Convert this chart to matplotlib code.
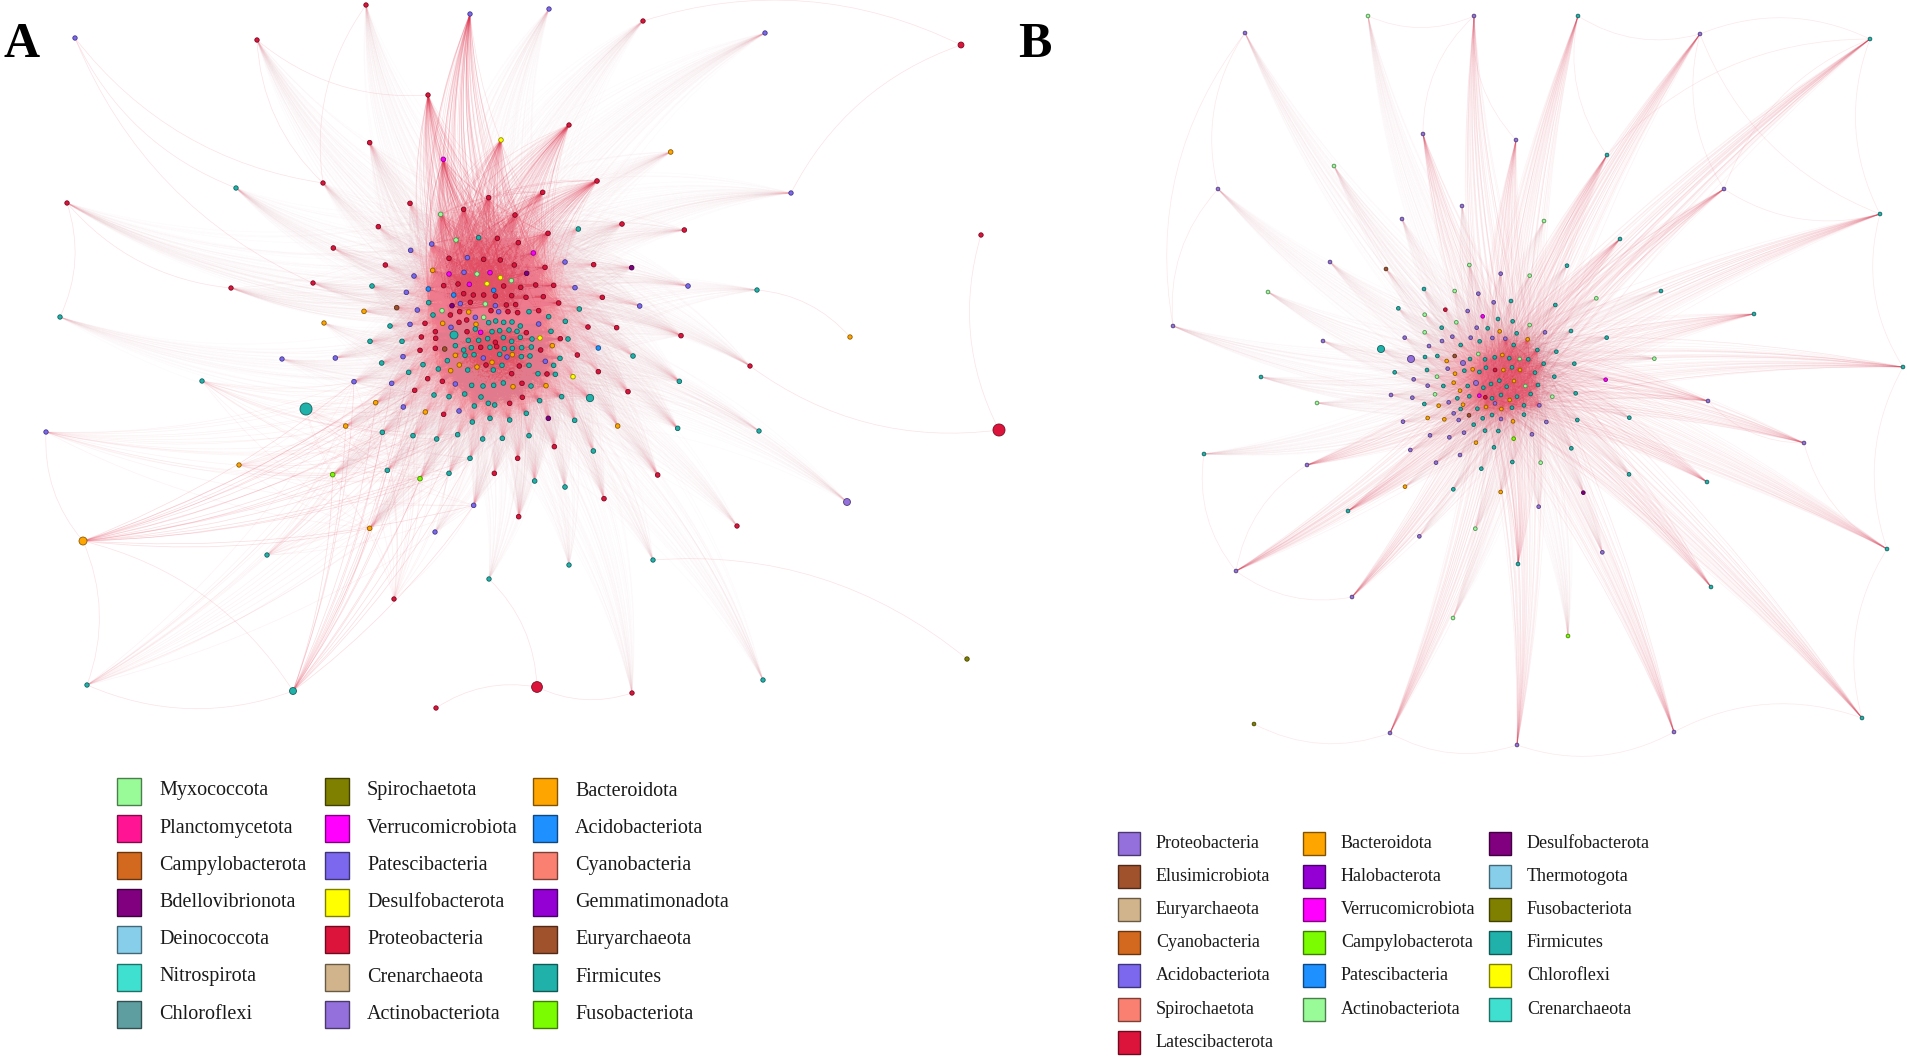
import numpy as np
import matplotlib
matplotlib.use("Agg")
import matplotlib.pyplot as plt
from matplotlib.path import Path
from matplotlib.collections import PathCollection
from matplotlib.patches import Rectangle
from matplotlib.colors import to_rgb

plt.rcParams['font.family'] = ['Liberation Serif', 'DejaVu Serif']

# ---------------------------------------------------------------- legends
legendA_names = [
    ["Myxococcota", "Planctomycetota", "Campylobacterota", "Bdellovibrionota",
     "Deinococcota", "Nitrospirota", "Chloroflexi"],
    ["Spirochaetota", "Verrucomicrobiota", "Patescibacteria", "Desulfobacterota",
     "Proteobacteria", "Crenarchaeota", "Actinobacteriota"],
    ["Bacteroidota", "Acidobacteriota", "Cyanobacteria", "Gemmatimonadota",
     "Euryarchaeota", "Firmicutes", "Fusobacteriota"],
]
legendA_colors = [
    ["#98FB98", "#FF1493", "#D2691E", "#800080", "#87CEEB", "#40E0D0", "#5F9EA0"],
    ["#808000", "#FF00FF", "#7B68EE", "#FFFF00", "#DC143C", "#D2B48C", "#9370DB"],
    ["#FFA500", "#1E90FF", "#FA8072", "#9400D3", "#A0522D", "#20B2AA", "#7CFC00"],
]
legendB_names = [
    ["Proteobacteria", "Elusimicrobiota", "Euryarchaeota", "Cyanobacteria",
     "Acidobacteriota", "Spirochaetota", "Latescibacterota"],
    ["Bacteroidota", "Halobacterota", "Verrucomicrobiota", "Campylobacterota",
     "Patescibacteria", "Actinobacteriota"],
    ["Desulfobacterota", "Thermotogota", "Fusobacteriota", "Firmicutes",
     "Chloroflexi", "Crenarchaeota"],
]
legendB_colors = [
    ["#9370DB", "#A0522D", "#D2B48C", "#D2691E", "#7B68EE", "#FA8072", "#DC143C"],
    ["#FFA500", "#9400D3", "#FF00FF", "#7CFC00", "#1E90FF", "#98FB98"],
    ["#800080", "#87CEEB", "#808000", "#20B2AA", "#FFFF00", "#40E0D0"],
]

codeA = {'r': 'Proteobacteria', 't': 'Firmicutes', 'b': 'Patescibacteria',
         'o': 'Bacteroidota', 'g': 'Myxococcota', 'm': 'Verrucomicrobiota',
         'y': 'Desulfobacterota', 'd': 'Bdellovibrionota', 'n': 'Euryarchaeota',
         'a': 'Acidobacteriota', 'f': 'Fusobacteriota', 's': 'Spirochaetota',
         'p': 'Actinobacteriota'}
codeB = {'p': 'Proteobacteria', 't': 'Firmicutes', 'g': 'Actinobacteriota',
         'l': 'Campylobacterota', 'o': 'Bacteroidota', 'm': 'Verrucomicrobiota',
         'r': 'Latescibacterota', 'e': 'Elusimicrobiota', 'u': 'Desulfobacterota',
         'f': 'Fusobacteriota'}

# ---------------------------------------------------------------- panel A network
# outer nodes (figure pixel layout): x, y, phylum code, size, link type
periA = [
    (366, 5, 'r', 10, 'u'), (470, 14, 'b', 10, 'U'), (549, 9, 'b', 10, 'u'),
    (643, 21, 'r', 10, 'u'), (75, 38, 'b', 10, 'n'), (257, 40, 'r', 10, 'u'),
    (765, 33, 'b', 10, 'u'), (961, 45, 'r', 18, 'n'), (428, 95, 'r', 10, 'U'),
    (569, 125, 'r', 10, 'U'), (323, 183, 'r', 10, 'u'), (236, 188, 't', 10, 'u'),
    (791, 193, 'b', 10, 'u'), (67, 203, 'r', 10, 'u'), (981, 235, 'r', 10, 'n'),
    (231, 288, 'r', 10, 'u'), (313, 283, 'r', 10, 'u'), (60, 317, 't', 10, 'l'),
    (757, 290, 't', 10, 'l'), (850, 337, 'o', 10, 'n'), (324, 323, 'o', 10, 'l'),
    (282, 359, 'b', 10, 'l'), (750, 366, 'r', 10, 'u'), (202, 381, 't', 10, 'w'),
    (306, 409, 't', 75, 'w'), (46, 432, 'b', 10, 'w'), (999, 430, 'r', 75, 'n'),
    (759, 431, 't', 10, 'l'), (239, 465, 'o', 10, 'w'), (847, 502, 'p', 25, 'l'),
    (737, 526, 'r', 10, 'l'), (435, 532, 'b', 10, 'l'), (83, 541, 'o', 33, 'W'),
    (267, 555, 't', 10, 'w'), (653, 560, 't', 10, 'l'), (569, 565, 't', 10, 'l'),
    (489, 579, 't', 10, 'l'), (394, 599, 'r', 10, 'w'), (967, 659, 's', 10, 'n'),
    (87, 685, 't', 10, 'w'), (293, 691, 't', 25, 'W'), (537, 687, 'r', 60, 'n'),
    (763, 680, 't', 10, 'l'), (632, 693, 'r', 10, 'l'), (436, 708, 'r', 10, 'n'),
    (454, 335, 't', 33, 'L'), (590, 398, 't', 28, 'L'),
]
extraA = [(4, 10), (4, 11), (4, 16), (14, 26), (7, 12), (7, 3), (41, 44), (41, 43),
          (41, 36), (38, 34), (39, 32), (39, 40), (40, 32), (0, 10), (5, 10), (5, 8),
          (13, 15), (25, 32), (17, 13), (19, 18), (22, 26)]

# core of panel A, read from an enlarged view (origin 330,130; factor 3)
hubsA = [(340, 88, 'm'), (513, 30, 'y'), (638, 187, 'r'), (801, 153, 'r')]
upperA = [
    (401, 238, 'r'), (476, 203, 'r'), (555, 255, 'r'), (332, 253, 'g'), (378, 330, 'g'),
    (446, 323, 't'), (502, 325, 'r'), (565, 338, 'r'), (654, 310, 'r'), (305, 342, 'b'),
    (357, 385, 'r'), (412, 383, 'b'), (461, 388, 'r'), (511, 390, 'r'), (553, 405, 'r'),
    (610, 369, 'm'), (645, 412, 'r'), (308, 421, 'o'), (357, 432, 'm'), (402, 427, 'b'),
    (441, 432, 'g'), (480, 428, 'm'), (511, 443, 'y'), (544, 452, 'g'), (590, 430, 'd'),
    (341, 467, 'r'), (384, 462, 'r'), (418, 463, 'm'), (471, 461, 'y'), (521, 468, 'r'),
    (572, 472, 'r'), (617, 465, 'r'), (671, 466, 'r'), (295, 477, 'a'), (371, 495, 'a'),
    (401, 491, 'r'), (430, 495, 'r'), (461, 495, 'r'), (491, 481, 'a'), (496, 498, 'r'),
    (545, 497, 'r'), (588, 502, 'r'), (640, 500, 'r'), (296, 518, 't'), (366, 527, 'd'),
    (391, 521, 'b'), (421, 517, 'r'), (466, 522, 'g'), (496, 527, 'b'), (529, 525, 'r'),
    (557, 524, 'r'), (626, 542, 'r'), (686, 519, 'r'), (361, 555, 'r'), (389, 545, 'r'),
    (416, 546, 'o'), (483, 542, 'r'), (534, 545, 'r'), (563, 548, 'r'),
]
lowerA = [
    (309, 555, 't'), (336, 542, 'g'), (436, 562, 'b'), (461, 562, 'g'), (506, 545, 'b'),
    (597, 545, 't'), (656, 560, 't'), (338, 580, 'o'), (363, 592, 'b'), (387, 577, 'r'),
    (410, 570, 'r'), (438, 583, 'o'), (476, 578, 't'), (497, 573, 't'), (521, 577, 't'),
    (546, 576, 't'), (571, 588, 't'), (626, 582, 'b'), (316, 605, 'r'), (411, 605, 'r'),
    (436, 597, 't'), (452, 607, 'm'), (486, 605, 't'), (509, 602, 't'), (537, 600, 't'),
    (561, 604, 't'), (589, 608, 'r'), (663, 604, 't'), (317, 625, 'r'), (415, 631, 't'),
    (446, 631, 't'), (473, 626, 't'), (496, 637, 'r'), (520, 623, 't'), (545, 634, 't'),
    (571, 622, 't'), (606, 627, 't'), (630, 624, 'y'), (691, 626, 'r'), (316, 655, 'r'),
    (344, 657, 'n'), (376, 647, 't'), (401, 660, 't'), (424, 653, 't'), (452, 652, 'r'),
    (480, 652, 't'), (500, 650, 'r'), (523, 656, 't'), (547, 655, 't'), (575, 653, 't'),
    (604, 651, 't'), (632, 660, 'r'), (667, 647, 'o'), (690, 685, 't'), (325, 717, 't'),
    (352, 692, 't'), (376, 676, 'o'), (405, 676, 't'), (432, 674, 't'), (460, 684, 'b'),
    (486, 697, 'o'), (509, 673, 't'), (531, 681, 'b'), (547, 674, 'o'), (574, 680, 't'),
    (600, 678, 't'), (646, 694, 'b'), (671, 706, 't'), (337, 754, 'r'), (362, 722, 'o'),
    (388, 705, 'o'), (413, 720, 't'), (441, 711, 'o'), (468, 705, 'r'), (490, 720, 't'),
    (516, 706, 't'), (545, 731, 'r'), (568, 708, 'r'), (597, 706, 't'), (624, 731, 't'),
    (651, 732, 'r'), (676, 733, 't'), (357, 800, 't'), (376, 762, 'b'), (404, 792, 't'),
    (425, 766, 't'), (453, 801, 't'), (459, 768, 't'), (491, 766, 't'), (520, 759, 't'),
    (549, 770, 'o'), (576, 760, 'r'), (603, 768, 't'), (648, 767, 'o'), (695, 800, 't'),
    (433, 828, 't'), (475, 820, 't'), (494, 825, 't'), (539, 820, 'r'), (577, 802, 'r'),
    (589, 850, 't'), (629, 812, 't'), (427, 876, 't'), (480, 865, 't'), (539, 870, 't'),
]
ringA = [
    (240, 220, 'r'), (145, 290, 'r'), (876, 282, 'r'), (1063, 300, 'r'), (745, 297, 't'),
    (242, 361, 'b'), (705, 396, 'b'), (791, 404, 'r'), (905, 413, 'd'), (166, 405, 'r'),
    (252, 438, 'b'), (735, 473, 'b'), (126, 468, 't'), (229, 487, 'b'), (817, 502, 'r'),
    (1074, 468, 'b'), (748, 537, 't'), (929, 528, 'b'), (200, 533, 'n'), (102, 544, 'o'),
    (262, 540, 'b'), (10, 354, 'r'), (119, 38, 'r'), (1022, 66, 'o'), (706, 574, 't'),
    (285, 580, 'r'), (180, 588, 't'), (240, 583, 'b'), (774, 591, 'r'), (860, 593, 'r'),
    (120, 634, 't'), (216, 634, 't'), (274, 621, 'r'), (714, 627, 't'), (1053, 617, 'r'),
    (16, 684, 'b'), (155, 699, 't'), (219, 680, 'b'), (270, 661, 'r'), (742, 675, 'r'),
    (805, 654, 'a'), (909, 678, 't'), (279, 704, 't'), (293, 746, 'r'), (729, 740, 'y'),
    (805, 725, 'r'), (1048, 754, 't'), (312, 795, 't'), (894, 785, 'r'), (341, 853, 'r'),
    (387, 843, 'b'), (655, 865, 'd'), (734, 871, 't'), (863, 888, 'o'), (1043, 895, 't'),
    (458, 927, 't'), (517, 925, 't'), (597, 917, 't'), (673, 950, 'r'), (790, 963, 't'),
    (563, 985, 'r'), (493, 1030, 'r'), (614, 1053, 't'), (705, 1071, 't'), (983, 1035, 'r'),
    (822, 1106, 'r'), (566, 1160, 'r'),
]
westA = [
    (137, 818, 'o'), (47, 888, 'o'), (220, 831, 'b'), (286, 846, 'o'), (157, 907, 't'),
    (249, 917, 't'), (8, 1034, 'f'), (270, 1046, 'f'), (172, 1021, 't'), (357, 1030, 't'),
    (119, 1195, 'o'), (431, 1126, 'b'), (320, 927, 't'), (383, 914, 't'), (420, 985, 't'),
    (72, 755, 'b'), (185, 760, 'b'), (254, 781, 'r'), (236, 727, 't'),
]

# ---------------------------------------------------------------- panel B network
periB = [
    (1245, 33, 'p', 7, 'f'), (1368, 16, 'g', 7, 'f'), (1474, 16, 'p', 7, 'F'),
    (1578, 16, 't', 7, 'F'), (1700, 34, 'p', 7, 'F'), (1870, 39, 't', 7, 'F'),
    (1218, 189, 'p', 7, 'f'), (1173, 326, 'p', 7, 'f'), (1334, 166, 'g', 7, 'f'),
    (1423, 134, 'p', 7, 'F'), (1516, 140, 'p', 7, 'F'), (1607, 155, 't', 7, 'F'),
    (1724, 189, 'p', 7, 'F'), (1880, 214, 't', 7, 'F'), (1462, 206, 'p', 7, 'f'),
    (1402, 219, 'p', 7, 'f'), (1544, 221, 'g', 7, 'f'), (1620, 239, 't', 7, 'F'),
    (1330, 262, 'p', 7, 'f'), (1268, 292, 'g', 7, 'f'), (1754, 314, 't', 7, 'F'),
    (1903, 367, 't', 7, 'F'), (1261, 377, 't', 7, 'f'), (1323, 341, 'p', 7, 'f'),
    (1317, 403, 'g', 7, 'f'), (1708, 401, 'p', 7, 'F'), (1804, 443, 'p', 7, 'F'),
    (1204, 454, 't', 7, 'f'), (1307, 465, 'p', 7, 'F'), (1707, 482, 't', 7, 'F'),
    (1348, 511, 't', 7, 'F'), (1887, 549, 't', 7, 'F'), (1236, 571, 'p', 7, 'F'),
    (1352, 597, 'p', 7, 'F'), (1518, 564, 't', 7, 'F'), (1711, 587, 't', 7, 'F'),
    (1453, 618, 'g', 7, 'f'), (1568, 636, 'l', 7, 'f'), (1254, 724, 'f', 7, 'n'),
    (1390, 733, 'p', 7, 'F'), (1517, 745, 'p', 7, 'F'), (1674, 732, 'p', 7, 'F'),
    (1862, 718, 't', 7, 'F'), (1381, 349, 't', 26, 'f'), (1411, 359, 'p', 26, 'f'),
    (1463, 363, 'p', 13, 'f'), (1476, 383, 'p', 13, 'f'),
]
extraB = [(5, 13), (5, 4), (3, 4), (13, 21), (21, 31), (31, 42), (42, 41), (40, 41),
          (39, 40), (38, 39), (32, 33), (0, 6), (6, 7), (0, 7), (3, 11), (4, 12),
          (12, 13), (2, 9), (2, 10), (26, 31), (25, 26), (5, 12), (5, 11), (4, 13),
          (1, 2), (28, 32), (27, 32)]

# core of panel B, read from an enlarged view (origin 1380,260; factor 3)
denseB = [
    (315, 298, 't'), (344, 292, 't'), (367, 285, 'o'), (388, 295, 't'), (419, 297, 'g'),
    (445, 298, 't'), (318, 323, 't'), (345, 330, 'r'), (370, 330, 'o'), (396, 322, 't'),
    (420, 330, 'o'), (465, 338, 't'), (310, 383, 't'), (333, 372, 't'), (358, 362, 't'),
    (380, 380, 't'), (402, 363, 'o'), (436, 378, 'g'), (316, 412, 'r'), (336, 415, 't'),
    (363, 405, 't'), (389, 420, 'o'), (411, 410, 't'), (452, 402, 't'), (318, 441, 'o'),
    (345, 430, 'p'), (364, 447, 'o'), (396, 443, 't'), (432, 436, 't'), (298, 336, 't'),
    (298, 407, 'm'), (376, 236, 'p'), (401, 255, 't'), (443, 238, 'o'), (472, 270, 't'),
    (474, 375, 't'), (478, 436, 'p'), (491, 311, 't'),
]
ringB = [
    (18, 27, 'e'), (268, 15, 'g'), (362, 41, 'p'), (449, 47, 'g'), (561, 17, 't'),
    (132, 87, 't'), (224, 93, 'g'), (295, 101, 'p'), (393, 123, 't'), (341, 127, 'p'),
    (526, 135, 't'), (649, 115, 'g'), (843, 93, 't'), (55, 145, 't'), (134, 164, 'g'),
    (196, 149, 'r'), (263, 153, 'p'), (308, 169, 'm'), (354, 177, 't'), (398, 184, 't'),
    (449, 195, 'g'), (229, 187, 'g'), (185, 203, 't'), (134, 217, 'g'), (290, 203, 'p'),
    (323, 205, 't'), (359, 214, 'o'), (410, 220, 't'), (495, 217, 'p'), (573, 213, 't'),
    (74, 233, 'p'), (147, 258, 'p'), (186, 243, 'p'), (217, 230, 'p'), (242, 255, 't'),
    (272, 233, 'p'), (299, 244, 't'), (337, 234, 'p'), (529, 275, 't'), (680, 233, 't'),
    (135, 291, 't'), (172, 288, 't'), (200, 303, 'o'), (224, 288, 'e'), (270, 297, 't'),
    (295, 282, 'g'), (583, 311, 't'), (823, 296, 'g'), (44, 337, 't'), (101, 358, 'p'),
    (141, 330, 't'), (171, 350, 'g'), (203, 326, 'p'), (225, 341, 'o'), (253, 332, 't'),
    (278, 328, 'o'), (523, 350, 't'), (677, 359, 'm'), (33, 405, 'p'), (97, 413, 'p'),
    (143, 377, 'p'), (165, 403, 'g'), (190, 378, 't'), (221, 368, 'o'), (240, 392, 'o'),
    (263, 378, 't'), (587, 400, 't'), (133, 432, 't'), (176, 437, 'o'), (206, 427, 'p'),
    (232, 415, 't'), (249, 434, 'o'), (268, 409, 't'), (517, 410, 'g'), (143, 474, 'o'),
    (193, 478, 'o'), (221, 460, 'p'), (242, 447, 't'), (267, 466, 'e'), (292, 446, 't'),
    (69, 485, 'p'), (236, 480, 'p'), (281, 494, 't'), (308, 475, 't'), (336, 465, 't'),
    (363, 477, 'p'), (399, 484, 'o'), (432, 464, 't'), (499, 486, 'p'), (592, 480, 't'),
    (748, 473, 't'), (150, 526, 'p'), (208, 532, 'p'), (252, 518, 'p'), (315, 512, 't'),
    (355, 513, 't'), (401, 536, 'l'), (456, 523, 'p'), (91, 570, 'p'), (288, 548, 'o'),
    (342, 562, 't'), (574, 565, 't'), (168, 608, 'p'), (240, 585, 'p'), (304, 626, 't'),
    (397, 606, 't'), (482, 608, 'g'), (75, 680, 'o'), (220, 688, 't'), (362, 696, 'o'),
    (476, 740, 'p'), (610, 698, 'u'), (747, 643, 't'), (118, 829, 'p'), (286, 806, 'g'),
    (667, 877, 'p'),
]

# ---------------------------------------------------------------- figure
W, H = 1908, 1057
fig = plt.figure(figsize=(W / 100, H / 100), dpi=100)
ax = fig.add_axes([0, 0, 1, 1])
ax.set_xlim(0, W)
ax.set_ylim(H, 0)
ax.axis('off')

colA = {n: c for names, cols in zip(legendA_names, legendA_colors) for n, c in zip(names, cols)}
colB = {n: c for names, cols in zip(legendB_names, legendB_colors) for n, c in zip(names, cols)}

EDGE = to_rgb('#e22a46')      # strong edge colour
FAINT = to_rgb('#f07a8e')     # light pink used for the faint edges


def enlarged(pts, ox, oy, f=3.0):
    a = np.array([(p[0], p[1]) for p in pts], float)
    return np.column_stack([ox + a[:, 0] / f, oy + a[:, 1] / f])


def curved(P0, P1, k):
    d = P1 - P0
    C = (P0 + P1) / 2 + k * np.column_stack([-d[:, 1], d[:, 0]])
    codes = [Path.MOVETO, Path.CURVE3, Path.CURVE3]
    return [Path(np.array([a, c, b]), codes) for a, c, b in zip(P0, C, P1)]


def bundle(P0, P1, alpha, lw=0.5, k=0.1, rgb=EDGE):
    if len(P0) == 0:
        return
    pc = PathCollection(curved(P0, P1, k), facecolors='none',
                        edgecolors=[(*rgb, alpha)], linewidths=lw, zorder=1)
    ax.add_collection(pc, autolim=False)


def all_pairs(P, alpha, **kw):
    i, j = np.triu_indices(len(P), 1)
    bundle(P[i], P[j], alpha, **kw)


def cross(P, Q, alpha, **kw):
    if len(P) == 0 or len(Q) == 0:
        return
    i, j = np.meshgrid(np.arange(len(P)), np.arange(len(Q)), indexing='ij')
    bundle(P[i.ravel()], Q[j.ravel()], alpha, **kw)


def draw_nodes(P, codes, sizes, codemap, colmap):
    cols = [colmap[codemap[c]] for c in codes]
    edges = [tuple(0.55 * np.array(to_rgb(c))) for c in cols]
    ax.scatter(P[:, 0], P[:, 1], s=sizes, c=cols, edgecolors=edges,
               linewidths=0.6, zorder=3)


# ----- panel A
pA = np.array([(p[0], p[1]) for p in periA], float)
linkA = np.array([p[4] for p in periA])
HA = enlarged(hubsA, 330, 130)
UA = enlarged(upperA, 330, 130)
LA = enlarged(lowerA, 330, 130)
RA = enlarged(ringA, 330, 130)
WA = enlarged(westA, 330, 130)

all_pairs(UA, 0.13)
all_pairs(LA, 0.03)
cross(UA, LA, 0.03, rgb=FAINT)
cross(np.vstack([HA, pA[linkA == 'U']]), UA, 0.13, k=0.12)
cross(RA, UA, 0.035, k=0.12, rgb=FAINT)
cross(RA[::2], LA[::3], 0.03, k=0.12, rgb=FAINT)
cross(WA, UA, 0.035, k=0.12, rgb=FAINT)
cross(WA, LA[::3], 0.03, k=0.12, rgb=FAINT)
cross(pA[linkA == 'W'], WA, 0.16, k=0.08)
cross(pA[linkA == 'w'], WA, 0.06, k=0.1)
cross(pA[linkA == 'u'], UA, 0.03, k=0.15, rgb=FAINT)
cross(pA[linkA == 'l'], LA[::3], 0.035, k=0.15, rgb=FAINT)
cross(pA[linkA == 'L'], LA, 0.05, k=0.1, rgb=FAINT)
ea = np.array(extraA)
bundle(pA[ea[:, 0]], pA[ea[:, 1]], 0.22, k=0.2, rgb=FAINT)

draw_nodes(UA, [p[2] for p in upperA], 11, codeA, colA)
draw_nodes(LA, [p[2] for p in lowerA], 11, codeA, colA)
draw_nodes(RA, [p[2] for p in ringA], 11, codeA, colA)
draw_nodes(WA, [p[2] for p in westA], 11, codeA, colA)
draw_nodes(HA, [p[2] for p in hubsA], 11, codeA, colA)
draw_nodes(pA, [p[2] for p in periA], [p[3] for p in periA], codeA, colA)

# ----- panel B
pB = np.array([(p[0], p[1]) for p in periB], float)
linkB = np.array([p[4] for p in periB])
DB = enlarged(denseB, 1380, 260)
QB = enlarged(ringB, 1380, 260)

all_pairs(DB, 0.11)
cross(QB, DB, 0.03, k=0.1, rgb=FAINT)
cross(pB[linkB == 'F'], DB, 0.06, k=0.06)
cross(pB[linkB == 'f'], DB, 0.035, k=0.1, rgb=FAINT)
eb = np.array(extraB)
bundle(pB[eb[:, 0]], pB[eb[:, 1]], 0.18, k=0.22, rgb=FAINT)

draw_nodes(QB, [p[2] for p in ringB], 7, codeB, colB)
draw_nodes(DB, [p[2] for p in denseB], 7, codeB, colB)
draw_nodes(pB, [p[2] for p in periB], [p[3] for p in periB], codeB, colB)


# ----- legends
def legend(names, colors, xs, tx, y0, dy, w, h, fs):
    for ci, (col_names, col_cols) in enumerate(zip(names, colors)):
        for ri, (nm, c) in enumerate(zip(col_names, col_cols)):
            y = y0 + ri * dy
            ec = tuple(0.5 * np.array(to_rgb(c)))
            ax.add_patch(Rectangle((xs[ci], y - h / 2), w, h, facecolor=c,
                                   edgecolor=ec, linewidth=1.0, zorder=4))
            ax.text(xs[ci] + tx, y, nm, fontsize=fs, va='center', ha='left',
                    color='#1a1a1a', zorder=5)


legend(legendA_names, legendA_colors, [117, 325, 533], 42, 791, 37.2, 24, 27, 14.5)
legend(legendB_names, legendB_colors, [1118, 1303, 1489], 38, 843, 33.2, 22, 23, 13)

ax.text(4, 57, 'A', fontsize=36, fontweight='bold', va='baseline', ha='left', color='black')
ax.text(1018, 57, 'B', fontsize=36, fontweight='bold', va='baseline', ha='left', color='black')

fig.savefig('out.png', dpi=100, facecolor='white')
